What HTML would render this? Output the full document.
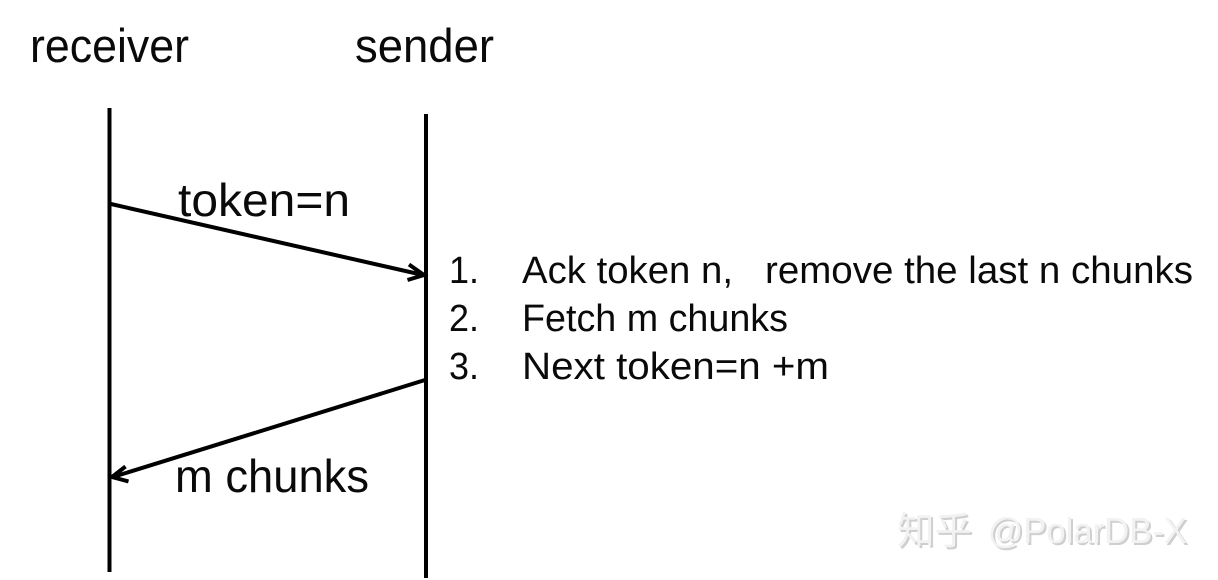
<!DOCTYPE html>
<html>
<head>
<meta charset="utf-8">
<style>
html,body{margin:0;padding:0;background:#fff;width:1218px;height:580px;overflow:hidden}
svg{display:block}
text{font-family:"Liberation Sans","Noto Sans CJK SC",sans-serif;fill:#0a0a0a}
</style>
</head>
<body>
<svg width="1218" height="580" viewBox="0 0 1218 580" xmlns="http://www.w3.org/2000/svg">
<rect width="1218" height="580" fill="#fff"/>
<text x="30" y="62" font-size="47" textLength="159" lengthAdjust="spacingAndGlyphs">receiver</text>
<text x="355" y="62" font-size="47" textLength="139" lengthAdjust="spacingAndGlyphs">sender</text>

<line x1="109.5" y1="108" x2="109.5" y2="572" stroke="#000" stroke-width="4"/>
<line x1="426" y1="114" x2="426" y2="578" stroke="#000" stroke-width="4"/>

<line x1="111" y1="204" x2="423" y2="275" stroke="#000" stroke-width="4"/>
<polyline points="409,264.5 424,275 407.5,280" fill="none" stroke="#000" stroke-width="4"/>

<line x1="425" y1="380" x2="113" y2="477" stroke="#000" stroke-width="4"/>
<polyline points="125.5,466.5 112,477 128.5,481.5" fill="none" stroke="#000" stroke-width="4"/>

<text x="178" y="216" font-size="46" textLength="172" lengthAdjust="spacingAndGlyphs">token=n</text>
<text x="175" y="492" font-size="46" textLength="194" lengthAdjust="spacingAndGlyphs">m chunks</text>

<text x="449" y="283" font-size="38" textLength="30" lengthAdjust="spacingAndGlyphs">1.</text>
<text x="522" y="283" font-size="38" textLength="211" lengthAdjust="spacingAndGlyphs">Ack token n,</text>
<text x="765" y="283" font-size="38" textLength="428" lengthAdjust="spacingAndGlyphs">remove the last n chunks</text>
<text x="449" y="331" font-size="38" textLength="30" lengthAdjust="spacingAndGlyphs">2.</text>
<text x="522" y="331" font-size="38" textLength="266" lengthAdjust="spacingAndGlyphs">Fetch m chunks</text>
<text x="449" y="379" font-size="38" textLength="30" lengthAdjust="spacingAndGlyphs">3.</text>
<text x="522" y="379" font-size="38" textLength="307" lengthAdjust="spacingAndGlyphs">Next token=n +m</text>

<text x="899" y="546" font-size="38" style="fill:#cfcfcf" textLength="75" lengthAdjust="spacingAndGlyphs">知乎</text>
<text x="897" y="544" font-size="38" style="fill:#f2f2f2" textLength="75" lengthAdjust="spacingAndGlyphs">知乎</text>
<text x="990" y="545" font-size="36" style="fill:#cfcfcf" textLength="199" lengthAdjust="spacingAndGlyphs">@PolarDB-X</text>
<text x="988" y="543" font-size="36" style="fill:#f2f2f2" textLength="199" lengthAdjust="spacingAndGlyphs">@PolarDB-X</text>
</svg>
</body>
</html>
